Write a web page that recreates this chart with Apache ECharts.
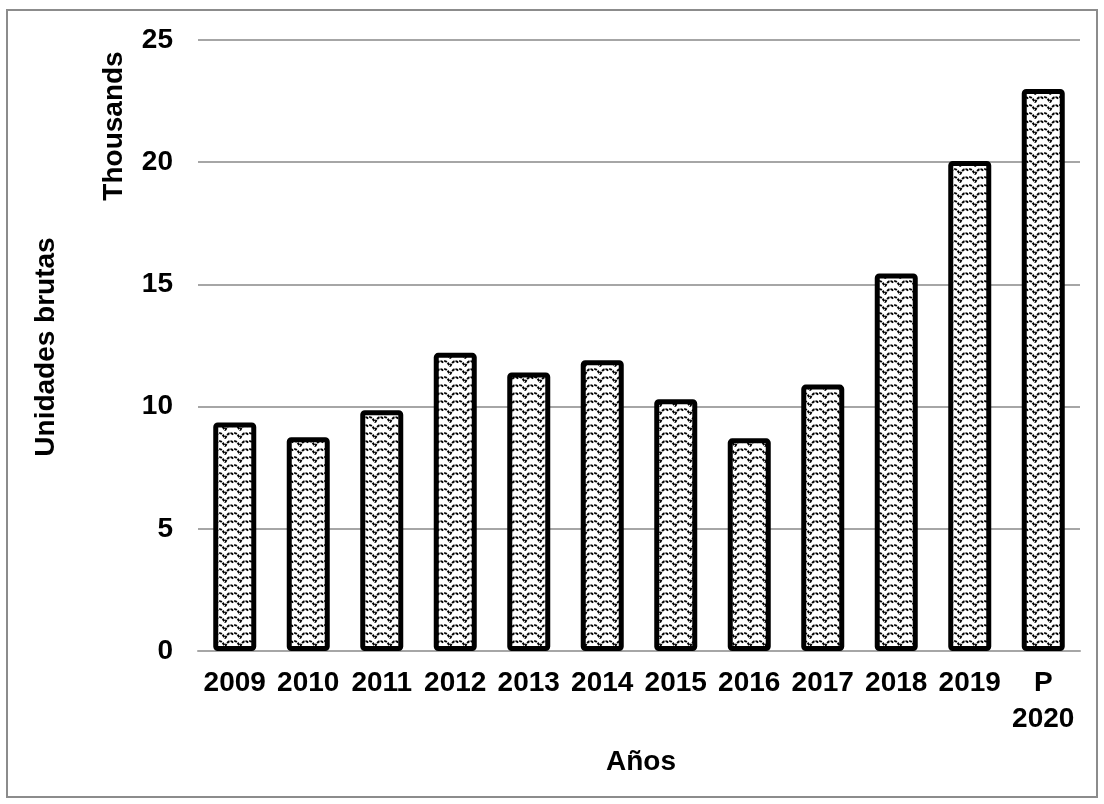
<!DOCTYPE html>
<html>
<head>
<meta charset="utf-8">
<script src="https://cdn.jsdelivr.net/npm/echarts@6/dist/echarts.min.js"></script>
<style>
  html, body { margin: 0; padding: 0; background: #fff; }
  #chart { width: 1104px; height: 804px; }
</style>
</head>
<body>
<div id="chart"></div>
<script>
// Años (2020 preliminar)
const categories = ['2009', '2010', '2011', '2012', '2013', '2014', '2015', '2016', '2017', '2018', '2019', 'P\n2020'];
// Unidades brutas, en miles
const unidades = [9.35, 8.75, 9.85, 12.2, 11.4, 11.9, 10.3, 8.7, 10.9, 15.45, 20.05, 23.0];
const yTicks = { min: 0, max: 25, interval: 5 };

// Wavy hatch fill used inside the bars
function wavePattern() {
  const c = document.createElement('canvas');
  c.width = 15; c.height = 8;
  const g = c.getContext('2d');
  g.fillStyle = '#ffffff';
  g.fillRect(0, 0, 15, 8);
  g.strokeStyle = '#000000';
  g.lineWidth = 1.9;
  g.setLineDash([3, 1]);
  g.beginPath();
  g.moveTo(0, 6.5);
  g.quadraticCurveTo(3.75, -1, 7.5, 2);
  g.quadraticCurveTo(11.25, -1, 15, 6.5);
  g.stroke();
  return c;
}

const font = '"Liberation Sans", Arial, sans-serif';
const chart = echarts.init(document.getElementById('chart'), null, { renderer: 'canvas' });

chart.setOption({
  animation: false,
  backgroundColor: '#ffffff',
  grid: { left: 198, right: 24, top: 40, bottom: 153, containLabel: false },
  xAxis: {
    type: 'category',
    data: categories,
    axisTick: { show: false },
    axisLine: { show: true, lineStyle: { color: '#a6a6a6', width: 2 } },
    axisLabel: {
      color: '#000', fontWeight: 'bold', fontSize: 28, fontFamily: font,
      lineHeight: 36, margin: 14, interval: 0
    }
  },
  yAxis: {
    type: 'value',
    min: yTicks.min, max: yTicks.max, interval: yTicks.interval,
    axisLine: { show: false },
    axisTick: { show: false },
    axisLabel: { color: '#000', fontWeight: 'bold', fontSize: 28, fontFamily: font, margin: 25 },
    splitLine: { lineStyle: { color: '#a6a6a6', width: 2 } }
  },
  series: [{
    type: 'bar',
    data: unidades,
    barWidth: 43,
    itemStyle: {
      color: { image: wavePattern(), repeat: 'repeat' },
      borderColor: '#000',
      borderWidth: 5,
      borderRadius: 2
    }
  }],
  graphic: [
    {
      type: 'rect', silent: true, z: -1,
      shape: { x: 7, y: 10, width: 1090, height: 787 },
      style: { fill: 'none', stroke: '#8c8c8c', lineWidth: 2 }
    },
    {
      type: 'text', x: 114, y: 126, rotation: Math.PI / 2,
      style: { text: 'Thousands', font: 'bold 28px ' + font, fill: '#000', align: 'center', verticalAlign: 'middle' }
    },
    {
      type: 'text', x: 46, y: 347, rotation: Math.PI / 2,
      style: { text: 'Unidades brutas', font: 'bold 28px ' + font, fill: '#000', align: 'center', verticalAlign: 'middle' }
    },
    {
      type: 'text', x: 641, y: 762,
      style: { text: 'Años', font: 'bold 28px ' + font, fill: '#000', align: 'center', verticalAlign: 'middle' }
    }
  ]
});
</script>
</body>
</html>
